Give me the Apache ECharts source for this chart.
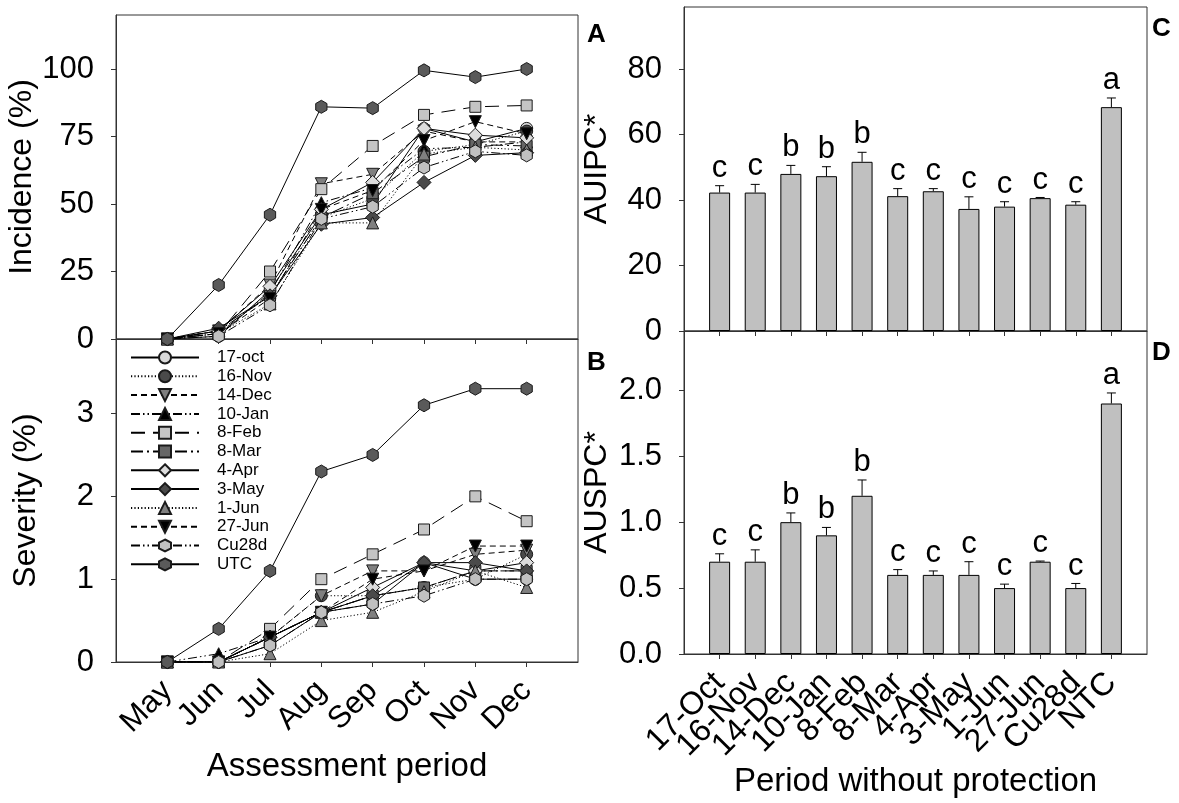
<!DOCTYPE html>
<html><head><meta charset="utf-8">
<script src="https://cdn.jsdelivr.net/npm/echarts@6/dist/echarts.min.js"></script>
<style>html,body{margin:0;padding:0;background:#fff}#c{width:1179px;height:803px}</style>
</head><body><div id="c"></div><script>
// ---------- data ----------
const months = ['May','Jun','Jul','Aug','Sep','Oct','Nov','Dec'];
const monthPos = [5,6,7,8,9,10,11,12];
const incTicks = [0,25,50,75,100];
const sevTicks = [0,1,2,3];
const auipcTicks = [0,20,40,60,80];
const auspcTicks = [0,0.5,1.0,1.5,2.0];

// Incidence (%)
const inc_17oct = [0, 1, 18, 46, 50, 78, 73, 78];
const inc_16Nov = [0, 3, 16, 45, 52, 69.5, 72, 77];
const inc_14Dec = [0, 3, 20, 57.5, 61, 77, 73, 73];
const inc_10Jan = [0, 2, 17, 50.5, 56, 70.5, 71, 73];
const inc_8Feb  = [0, 2, 25, 55.5, 71.5, 83, 86, 86.5];
const inc_8Mar  = [0, 3, 16, 45, 54, 67.5, 72, 71.5];
const inc_4Apr  = [0, 3, 19.5, 48, 58, 78, 75.5, 74.5];
const inc_3May  = [0, 4, 16, 42.5, 45, 58, 68, 69];
const inc_1Jun  = [0, 2, 13, 43, 43, 68.5, 71, 70];
const inc_27Jun = [0, 2, 15, 48, 55, 73.5, 80.5, 76];
const inc_Cu28d = [0, 1, 12.5, 44.5, 49, 63.5, 69.5, 68];
const inc_UTC   = [0, 20, 46, 86, 85.5, 99.5, 97, 100];

// Severity (%)
const sev_17oct = [0, 0, 0.2, 0.6, 0.7, 1.2, 1.0, 1.0];
const sev_16Nov = [0, 0, 0.3, 0.8, 0.8, 0.9, 1.0, 1.3];
const sev_14Dec = [0, 0, 0.3, 0.8, 1.1, 1.1, 1.3, 1.35];
const sev_10Jan = [0, 0.1, 0.3, 0.6, 0.8, 0.9, 1.1, 1.1];
const sev_8Feb  = [0, 0, 0.4, 1.0, 1.3, 1.6, 2.0, 1.7];
const sev_8Mar  = [0, 0, 0.3, 0.6, 0.8, 0.9, 1.1, 1.1];
const sev_4Apr  = [0, 0, 0.3, 0.6, 0.9, 1.2, 1.1, 1.2];
const sev_3May  = [0, 0, 0.3, 0.6, 0.8, 1.2, 1.2, 1.1];
const sev_1Jun  = [0, 0, 0.1, 0.5, 0.6, 0.85, 1.1, 0.9];
const sev_27Jun = [0, 0, 0.3, 0.6, 1.0, 1.1, 1.4, 1.4];
const sev_Cu28d = [0, 0, 0.2, 0.6, 0.7, 0.8, 1.0, 1.0];
const sev_UTC   = [0, 0.4, 1.1, 2.3, 2.5, 3.1, 3.3, 3.3];

// Bars
const periods = ['17-Oct','16-Nov','14-Dec','10-Jan','8-Feb','8-Mar','4-Apr','3-May','1-Jun','27-Jun','Cu28d','NTC'];
const periodPos = [1,2,3,4,5,6,7,8,9,10,11,12];
const auipc    = [42.3, 42.3, 48.0, 47.3, 51.7, 41.2, 42.7, 37.3, 38.0, 40.6, 38.6, 68.4];
const auipcErr = [2.1, 2.5, 2.6, 2.9, 2.9, 2.3, 0.8, 3.7, 1.5, 0.2, 0.9, 2.8];
const auipcLetters = ['c','c','b','b','b','c','c','c','c','c','c','a'];
const auspc    = [0.7, 0.7, 1.0, 0.9, 1.2, 0.6, 0.6, 0.6, 0.5, 0.7, 0.5, 1.9];
const auspcErr = [0.06, 0.09, 0.07, 0.06, 0.12, 0.04, 0.03, 0.10, 0.03, 0.005, 0.035, 0.08];
const auspcLetters = ['c','c','b','b','b','c','c','c','c','c','c','a'];

// ---------- styles ----------
const HEX = 'path://M50 0 L93.3 25 L93.3 75 L50 100 L6.7 75 L6.7 25 Z';
const DOT = [1.2, 2.2], SDASH = [6, 4], LDASH = [14, 8], DDOT = [9, 3, 1.5, 3, 1.5, 3], LDDOT = [12, 4, 2, 4];
const styles = [
  {name:'17-oct', inc:inc_17oct, sev:sev_17oct, symbol:'circle', size:12, rot:0, fill:'#d9d9d9', dash:'solid'},
  {name:'16-Nov', inc:inc_16Nov, sev:sev_16Nov, symbol:'circle', size:12, rot:0, fill:'#4a4a4a', dash:DOT},
  {name:'14-Dec', inc:inc_14Dec, sev:sev_14Dec, symbol:'triangle', size:12, rot:180, fill:'#808080', dash:SDASH},
  {name:'10-Jan', inc:inc_10Jan, sev:sev_10Jan, symbol:'triangle', size:12, rot:0, fill:'#000000', dash:DDOT},
  {name:'8-Feb', inc:inc_8Feb, sev:sev_8Feb, symbol:'rect', size:11, rot:0, fill:'#c4c4c4', dash:LDASH},
  {name:'8-Mar', inc:inc_8Mar, sev:sev_8Mar, symbol:'rect', size:11, rot:0, fill:'#666666', dash:LDDOT},
  {name:'4-Apr', inc:inc_4Apr, sev:sev_4Apr, symbol:'diamond', size:14, rot:0, fill:'#dcdcdc', dash:'solid'},
  {name:'3-May', inc:inc_3May, sev:sev_3May, symbol:'diamond', size:14, rot:0, fill:'#4a4a4a', dash:'solid'},
  {name:'1-Jun', inc:inc_1Jun, sev:sev_1Jun, symbol:'triangle', size:12, rot:0, fill:'#808080', dash:DOT},
  {name:'27-Jun', inc:inc_27Jun, sev:sev_27Jun, symbol:'triangle', size:12, rot:180, fill:'#000000', dash:SDASH},
  {name:'Cu28d', inc:inc_Cu28d, sev:sev_Cu28d, symbol:HEX, size:13, rot:0, fill:'#c0c0c0', dash:DDOT},
  {name:'UTC', inc:inc_UTC, sev:sev_UTC, symbol:HEX, size:13, rot:0, fill:'#5a5a5a', dash:'solid'}
];

const FONT = 'Liberation Sans';
const AX = '#333';

function lineSeries(s, key, xi, yi) {
  return {
    type:'line', name:s.name, xAxisIndex:xi, yAxisIndex:yi,
    data: s[key].map((v,i)=>[monthPos[i], v]),
    symbol:s.symbol, symbolSize:s.size, symbolRotate:s.rot, symbolKeepAspect:true,
    showAllSymbol:true,
    lineStyle:{color:'#000', width:1, type:s.dash},
    itemStyle:{color:s.fill, borderColor:'#1a1a1a', borderWidth:1},
    emphasis:{disabled:true}, animation:false, z: s.name==='UTC'?3:2
  };
}

function errRender(letters){
  return function(params, api){
    const x = api.value(0), y = api.value(1), e = api.value(2);
    const p0 = api.coord([x, y]);
    const p1 = api.coord([x, y + e]);
    const t = letters[params.dataIndex];
    return {type:'group', children:[
      {type:'line', shape:{x1:p0[0], y1:p0[1], x2:p1[0], y2:p1[1]}, style:{stroke:'#000', lineWidth:1}},
      {type:'line', shape:{x1:p1[0]-4.5, y1:p1[1], x2:p1[0]+4.5, y2:p1[1]}, style:{stroke:'#000', lineWidth:1}},
      {type:'text', x:p1[0], y:p1[1]-2, style:{text:t, fill:'#000', font:'31px "'+FONT+'"', align:'center', verticalAlign:'bottom'}}
    ]};
  };
}

const grids = [
  {left:116, top:15, width:462, height:324, show:true, borderColor:AX, borderWidth:1},
  {left:116, top:339, width:462, height:323, show:true, borderColor:AX, borderWidth:1},
  {left:684, top:7, width:463, height:324, show:true, borderColor:AX, borderWidth:1},
  {left:684, top:331, width:463, height:323, show:true, borderColor:AX, borderWidth:1}
];

const axLine = {show:true, lineStyle:{color:AX, width:1}};
const tickOut = (vals)=>({show:true, inside:false, length:5, lineStyle:{color:AX}, customValues:vals});
const nameStyleY = {fontFamily:FONT, fontSize:32, color:'#000'};
const nameStyleX = {fontFamily:FONT, fontSize:33, color:'#000'};
// label positions incl. blank end slots so every period label is kept
const periodLabelPos = [0].concat(periodPos, [13]);

const xAxes = [
  {gridIndex:0, type:'value', min:4, max:13, axisLine:axLine, axisTick:tickOut(monthPos), axisLabel:{show:false}, splitLine:{show:false}},
  {gridIndex:1, type:'value', min:4, max:13, axisLine:axLine, axisTick:tickOut(monthPos),
    axisLabel:{show:true, customValues:monthPos, rotate:45, margin:24, padding:[16,0,0,0], fontFamily:FONT, fontSize:31, color:'#000',
      showMinLabel:true, showMaxLabel:true, hideOverlap:false,
      formatter:(v)=>months[monthPos.indexOf(v)] || ''},
    splitLine:{show:false}, name:'Assessment period', nameLocation:'middle', nameGap:88, nameTextStyle:nameStyleX},
  {gridIndex:2, type:'value', min:0, max:13, axisLine:axLine, axisTick:tickOut(periodPos), axisLabel:{show:false}, splitLine:{show:false}},
  {gridIndex:3, type:'value', min:0, max:13, axisLine:axLine, axisTick:tickOut(periodPos),
    axisLabel:{show:true, customValues:periodLabelPos, rotate:45, margin:24, fontFamily:FONT, fontSize:32, color:'#000',
      hideOverlap:false,
      formatter:(v)=>{const i = periodPos.indexOf(v); return i >= 0 ? periods[i] : ' ';}},
    splitLine:{show:false}, name:'Period without protection', nameLocation:'middle', nameGap:111, nameTextStyle:nameStyleX}
];

const yLab = (vals, fmt)=>({show:true, customValues:vals, margin:22, fontFamily:FONT, fontSize:31, color:'#000', formatter:fmt,
  showMinLabel:true, showMaxLabel:true, hideOverlap:false});
const yAxes = [
  {gridIndex:0, type:'value', min:0, max:120, axisLine:axLine, axisTick:tickOut(incTicks), axisLabel:yLab(incTicks, v=>String(v)),
    splitLine:{show:false}, name:'Incidence (%)', nameLocation:'middle', nameGap:74, nameRotate:90, nameTextStyle:nameStyleY},
  {gridIndex:1, type:'value', min:0, max:3.9, axisLine:axLine, axisTick:tickOut(sevTicks), axisLabel:yLab(sevTicks, v=>String(v)),
    splitLine:{show:false}, name:'Severity (%)', nameLocation:'middle', nameGap:74, nameRotate:90, nameTextStyle:nameStyleY},
  {gridIndex:2, type:'value', min:0, max:99, axisLine:axLine, axisTick:tickOut(auipcTicks), axisLabel:yLab(auipcTicks, v=>String(v)),
    splitLine:{show:false}, name:'AUIPC*', nameLocation:'middle', nameGap:71, nameRotate:90, nameTextStyle:nameStyleY},
  {gridIndex:3, type:'value', min:0, max:2.45, axisLine:axLine, axisTick:tickOut(auspcTicks), axisLabel:yLab(auspcTicks, v=>v.toFixed(1)),
    splitLine:{show:false}, name:'AUSPC*', nameLocation:'middle', nameGap:71, nameRotate:90, nameTextStyle:nameStyleY}
];

const series = [];
styles.forEach(s=>series.push(lineSeries(s, 'inc', 0, 0)));
styles.forEach(s=>series.push(lineSeries(s, 'sev', 1, 1)));
series.push({type:'bar', xAxisIndex:2, yAxisIndex:2, barWidth:21, data:auipc.map((v,i)=>[periodPos[i], v]),
  itemStyle:{color:'#c0c0c0', borderColor:'#000', borderWidth:1}, emphasis:{disabled:true}, animation:false});
series.push({type:'custom', xAxisIndex:2, yAxisIndex:2, data:auipc.map((v,i)=>[periodPos[i], v, auipcErr[i]]),
  encode:{x:0, y:1}, renderItem:errRender(auipcLetters), animation:false, z:5});
series.push({type:'bar', xAxisIndex:3, yAxisIndex:3, barWidth:21, data:auspc.map((v,i)=>[periodPos[i], v]),
  itemStyle:{color:'#c0c0c0', borderColor:'#000', borderWidth:1}, emphasis:{disabled:true}, animation:false});
series.push({type:'custom', xAxisIndex:3, yAxisIndex:3, data:auspc.map((v,i)=>[periodPos[i], v, auspcErr[i]]),
  encode:{x:0, y:1}, renderItem:errRender(auspcLetters), animation:false, z:5});

const panelTxt = (t, x, y)=>({type:'text', left:x, top:y, style:{text:t, font:'bold 26px "'+FONT+'"', fill:'#000'}});

const option = {
  animation:false,
  backgroundColor:'#fff',
  textStyle:{fontFamily:FONT},
  grid:grids, xAxis:xAxes, yAxis:yAxes, series:series,
  legend:{
    orient:'vertical', left:130, top:349, padding:0,
    itemWidth:68, itemHeight:15, itemGap:1.8,
    data:styles.map(s=>s.name),
    textStyle:{fontFamily:FONT, fontSize:17, color:'#000', lineHeight:15, padding:[0,0,0,13]},
    selectedMode:false
  },
  graphic:[
    panelTxt('A', 587, 22), panelTxt('B', 587, 350),
    panelTxt('C', 1152, 16), panelTxt('D', 1152, 340)
  ]
};
const chart = echarts.init(document.getElementById('c'), null, {renderer:'canvas'});
chart.setOption(option);
</script></body></html>
